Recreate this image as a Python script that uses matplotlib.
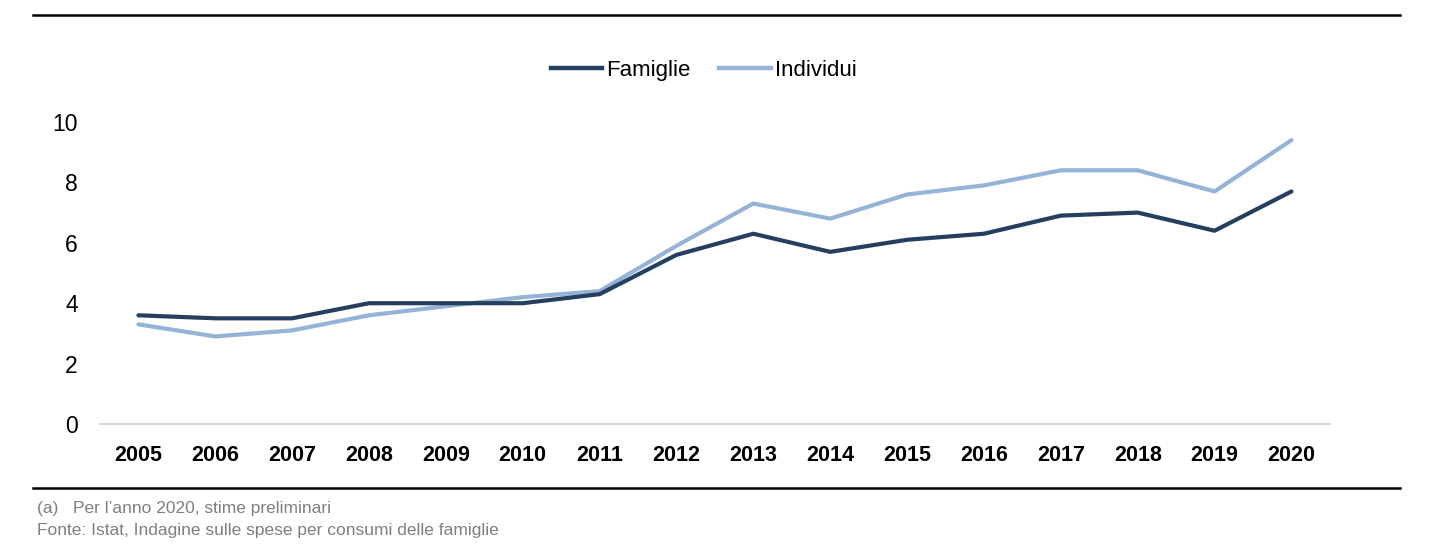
import matplotlib.pyplot as plt
from matplotlib.lines import Line2D

years = ['2005', '2006', '2007', '2008', '2009', '2010', '2011', '2012',
         '2013', '2014', '2015', '2016', '2017', '2018', '2019', '2020']
famiglie = [3.6, 3.5, 3.5, 4.0, 4.0, 4.0, 4.3, 5.6, 6.3, 5.7, 6.1, 6.3, 6.9, 7.0, 6.4, 7.7]
individui = [3.3, 2.9, 3.1, 3.6, 3.9, 4.2, 4.4, 5.9, 7.3, 6.8, 7.6, 7.9, 8.4, 8.4, 7.7, 9.4]
yticks = [0, 2, 4, 6, 8, 10]

plt.rcParams['font.family'] = ['Liberation Sans', 'DejaVu Sans']

fig = plt.figure(figsize=(14.36, 5.58), dpi=100)
ax = fig.add_axes([0.0696, 0.2401, 0.8565, 0.5413])

x = list(range(len(years)))
ax.plot(x, famiglie, color='#243f60', lw=3, solid_capstyle='round', label='Famiglie', zorder=3)
ax.plot(x, individui, color='#95b3d7', lw=3, solid_capstyle='round', label='Individui', zorder=2)

ax.set_xlim(-0.5, len(years) - 0.5)
ax.set_ylim(0, 10)
ax.set_yticks(yticks)
ax.set_yticklabels([str(v) for v in yticks], fontsize=16.5)
ax.set_xticks(x)
ax.set_xticklabels(years, fontsize=15.5, fontweight='bold')
ax.tick_params(axis='both', length=0)
ax.tick_params(axis='y', pad=16)
ax.tick_params(axis='x', pad=15)
for s in ['top', 'right', 'left']:
    ax.spines[s].set_visible(False)
ax.spines['bottom'].set_color('#d9d9d9')
ax.spines['bottom'].set_linewidth(1.5)

handles = [Line2D([], [], color='#243f60', lw=3.2),
           Line2D([], [], color='#95b3d7', lw=3.2)]
fig.legend(handles, ['Famiglie', 'Individui'], loc='center', bbox_to_anchor=(0.49, 0.874),
           ncol=2, frameon=False, fontsize=16, handlelength=2.3, handletextpad=0.2,
           columnspacing=1.3)

# linee orizzontali di cornice
fig.add_artist(Line2D([0.023, 0.975], [1 - 15 / 558, 1 - 15 / 558], color='black', lw=1.8))
fig.add_artist(Line2D([0.023, 0.975], [1 - 488 / 558, 1 - 488 / 558], color='black', lw=1.8))

fig.text(0.026, 1 - 508 / 558, "(a)   Per l\u2019anno 2020, stime preliminari", fontsize=12.5,
         color='#7f7f7f', va='center')
fig.text(0.026, 1 - 531 / 558, "Fonte: Istat, Indagine sulle spese per consumi delle famiglie",
         fontsize=12.5, color='#7f7f7f', va='center')

fig.savefig('out.png', dpi=100)
